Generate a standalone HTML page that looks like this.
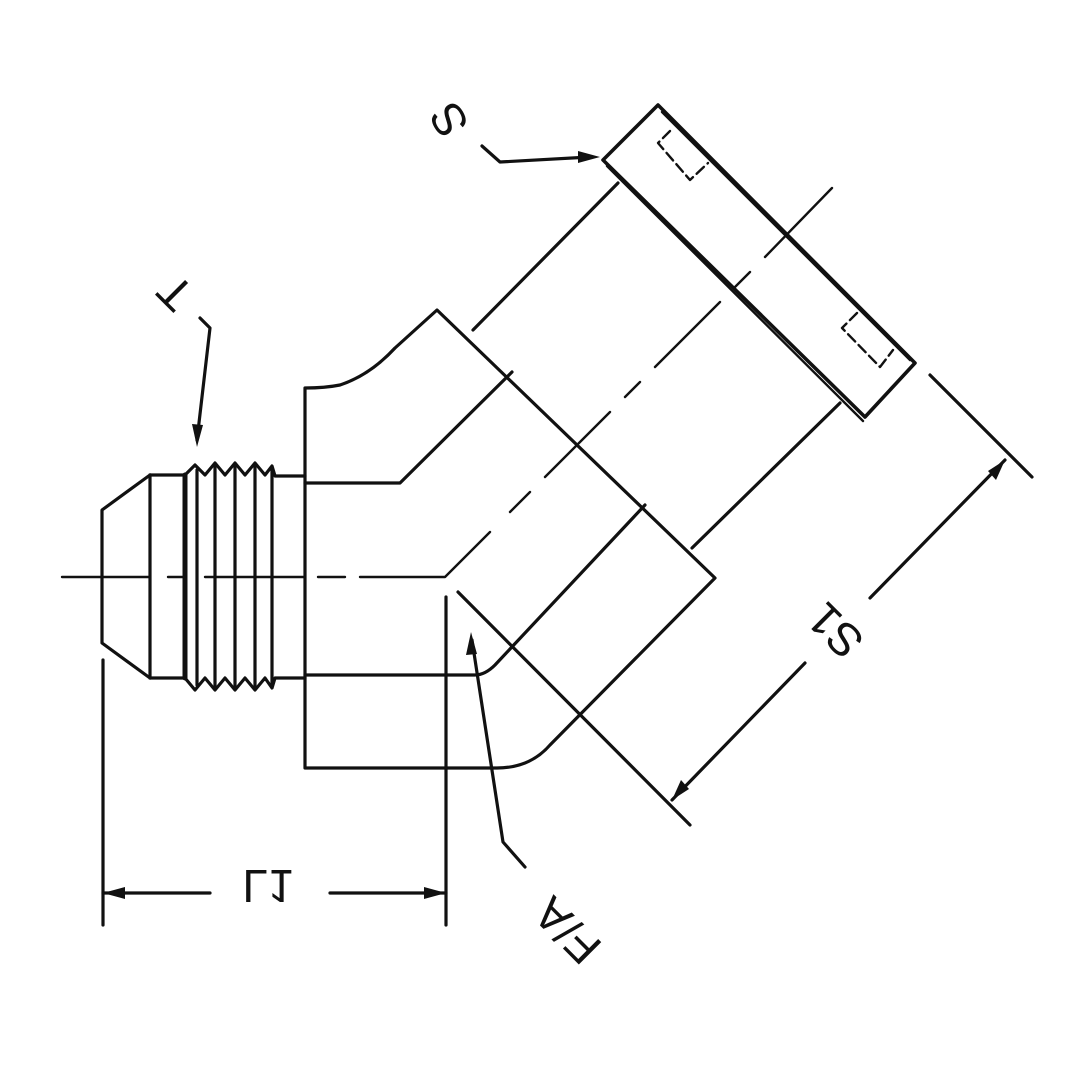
<!DOCTYPE html>
<html><head><meta charset="utf-8"><style>
html,body{margin:0;padding:0;background:#fff;}
svg{display:block;}
text{font-family:"Liberation Sans",sans-serif;font-size:46px;fill:#111;}
</style></head><body>
<svg width="1080" height="1080" viewBox="0 0 1080 1080" xmlns="http://www.w3.org/2000/svg">
<g fill="none" stroke="#111" stroke-width="3.2" stroke-linecap="round" stroke-linejoin="round">
<path d="M150,475 L102,510 L102,643 L150,678"/>
<line x1="150" y1="475" x2="150" y2="678"/>
<line x1="150" y1="475" x2="185" y2="475"/>
<line x1="150" y1="678" x2="185" y2="678"/>
<path d="M185,475 L195,465 L205,475 L215,463 L225,475 L235,463 L245,475 L255,463 L265,475 L272,466 L275,476 L305,476"/>
<path d="M185,678 L195,690 L205,678 L215,690 L225,678 L235,690 L245,678 L255,690 L265,678 L272,688 L275,678 L305,678"/>
<line x1="185" y1="475" x2="185" y2="678" stroke-width="5"/>
<line x1="197" y1="470" x2="197" y2="685"/>
<line x1="215" y1="466" x2="215" y2="688"/>
<line x1="235" y1="466" x2="235" y2="688"/>
<line x1="255" y1="466" x2="255" y2="688"/>
<line x1="272" y1="468" x2="272" y2="686"/>
<path d="M305,388 L305,768 L497,768 Q530,768 550,745 L715,578 L437,310 L395,348 Q370,375 340,385 Q325,388 305,388"/>
<path d="M305,483 L400,483 L512,372"/>
<path d="M305,675 L475,675 Q485,675 495,665 L645,505"/>
<line x1="473" y1="330" x2="618" y2="183"/>
<line x1="692" y1="548" x2="840" y2="403"/>
<path d="M603,160 L658,105 L915,363 L865,417 Z" stroke-width="3.6"/>
<line x1="607" y1="166" x2="863" y2="421" stroke-width="2.4"/>
<line x1="662" y1="112" x2="910" y2="360" stroke-width="2.4"/>
<path d="M670,131 L658,143 L690,180 L708,163" stroke-dasharray="10,5" stroke-width="2.4"/>
<path d="M857,313 L842,328 L880,367 L893,350" stroke-dasharray="10,5" stroke-width="2.4"/>
<path d="M62,577 L150,577 M168,577 L185,577 M205,577 L305,577 M318,577 L345,577 M360,577 L445,577 L490,532 M510,512 L530,492 M545,477 L610,412 M625,397 L640,382 M655,367 L720,302 M735,287 L750,272 M765,257 L832,188" stroke-width="2.4"/>
<line x1="458" y1="592" x2="690" y2="825"/>
<line x1="446" y1="597" x2="446" y2="925"/>
<line x1="103" y1="660" x2="103" y2="925"/>
<line x1="930" y1="375" x2="1032" y2="477"/>
<line x1="103" y1="893" x2="210" y2="893"/>
<line x1="330" y1="893" x2="446" y2="893"/>
<line x1="1005" y1="460" x2="870" y2="598"/>
<line x1="805" y1="663" x2="672" y2="800"/>
<path d="M525,867 L503,842 L472,640"/>
<path d="M200,318 L210,328 L197,440"/>
<path d="M482,146 L500,162 L590,157"/>
</g>
<g fill="#111">
<polygon points="103,893 125,887 125,899"/>
<polygon points="446,893 424,887 424,899"/>
<polygon points="1005,460 996,480 988,471"/>
<polygon points="672,800 681,780 689,789"/>
<polygon points="471,632 466,655 477,654"/>
<polygon points="197,447 192,424 203,425"/>
<polygon points="600,157 578,151 578,163"/>
</g>
<text text-anchor="middle" dominant-baseline="middle" transform="translate(268,882) scale(1,-1)">L1</text>
<text x="570" y="928" text-anchor="middle" dominant-baseline="middle" transform="rotate(-135 570 928)">F/A</text>
<text x="838" y="628" text-anchor="middle" dominant-baseline="middle" transform="rotate(-135 838 628)">S1</text>
<text x="452" y="118" text-anchor="middle" dominant-baseline="middle" transform="rotate(-120 452 118)">S</text>
<text x="178" y="290" text-anchor="middle" dominant-baseline="middle" transform="rotate(-135 178 290)">T</text>
</svg>
</body></html>
